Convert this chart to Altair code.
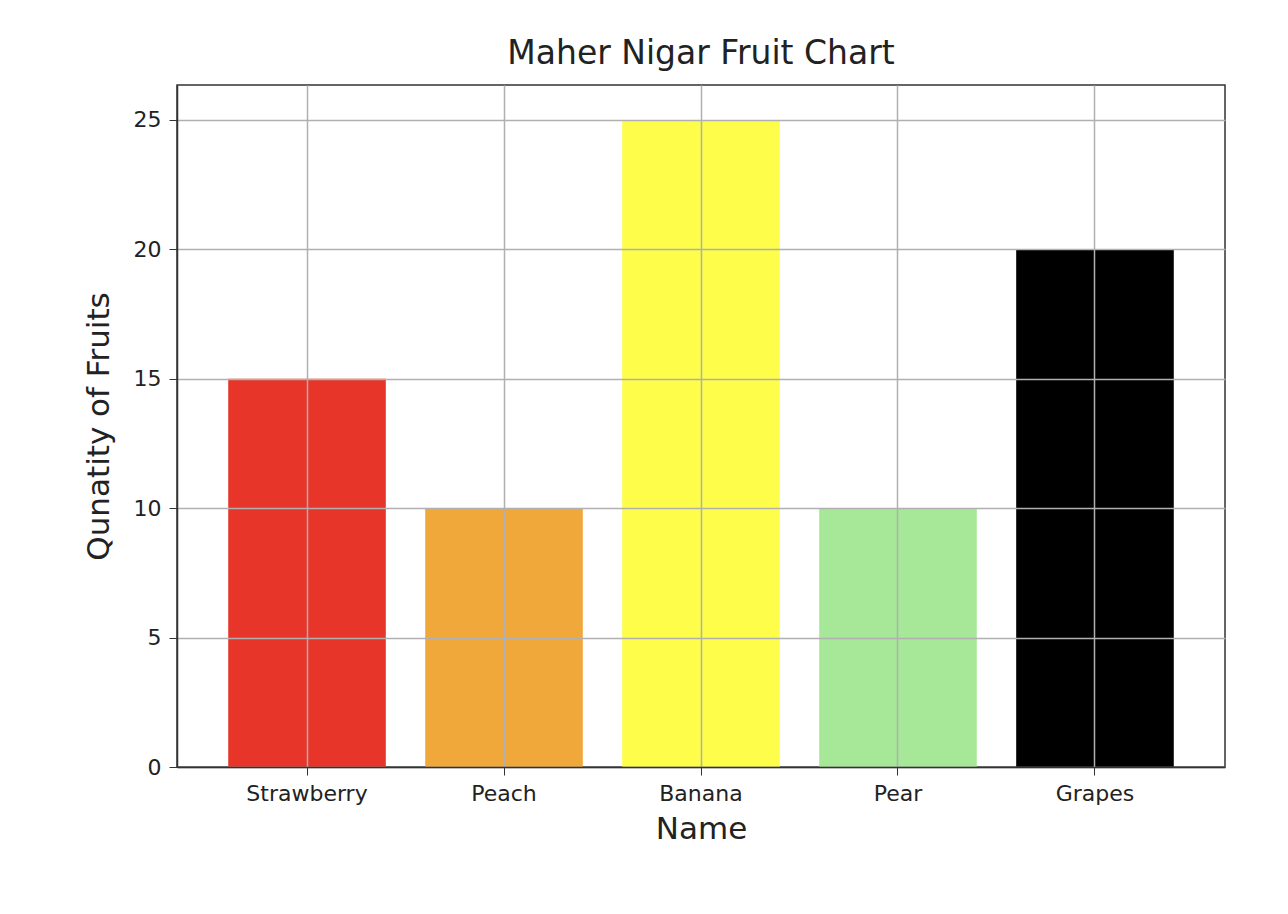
import altair as alt
import pandas as pd

fruits = ["Strawberry", "Peach", "Banana", "Pear", "Grapes"]
quantity = [15, 10, 25, 10, 20]
colors = ["#e8352a", "#f0a83b", "#fdfd4a", "#a6e897", "#000000"]

df = pd.DataFrame({"name": fruits, "qty": quantity})

chart = (
    alt.Chart(df)
    .mark_bar()
    .encode(
        x=alt.X(
            "name:N",
            sort=fruits,
            title="Name",
            scale=alt.Scale(paddingInner=0.2, paddingOuter=0.26),
            axis=alt.Axis(labelAngle=0, grid=True, bandPosition=0.5, zindex=1,
                          labelFontSize=22, titleFontSize=31, titleFontWeight="normal",
                          labelPadding=8, titlePadding=10),
        ),
        y=alt.Y(
            "qty:Q",
            title="Qunatity of Fruits",
            scale=alt.Scale(domain=[0, 26.35], nice=False),
            axis=alt.Axis(values=[0, 5, 10, 15, 20, 25], grid=True, zindex=1,
                          labelFontSize=22, titleFontSize=31, titleFontWeight="normal",
                          labelPadding=8, titlePadding=18),
        ),
        color=alt.Color("name:N", scale=alt.Scale(domain=fruits, range=colors), legend=None),
    )
    .properties(
        width=1048,
        height=682,
        autosize="none",
        padding={"left": 169, "top": 77, "right": 50, "bottom": 140},
        title=alt.TitleParams("Maher Nigar Fruit Chart", fontSize=33, fontWeight="normal", offset=14),
    )
    .configure(font="DejaVu Sans")
    .configure_axis(gridColor="#b0b0b0", gridOpacity=1, domainColor="#333", tickColor="#333",
                    labelColor="#222", titleColor="#222", tickSize=8, gridWidth=1.5, domainWidth=1.5)
    .configure_view(stroke="#333", strokeWidth=1.5)
    .configure_title(color="#222")
)

chart.save("out.html", embed_options={"renderer": "svg", "actions": False})
